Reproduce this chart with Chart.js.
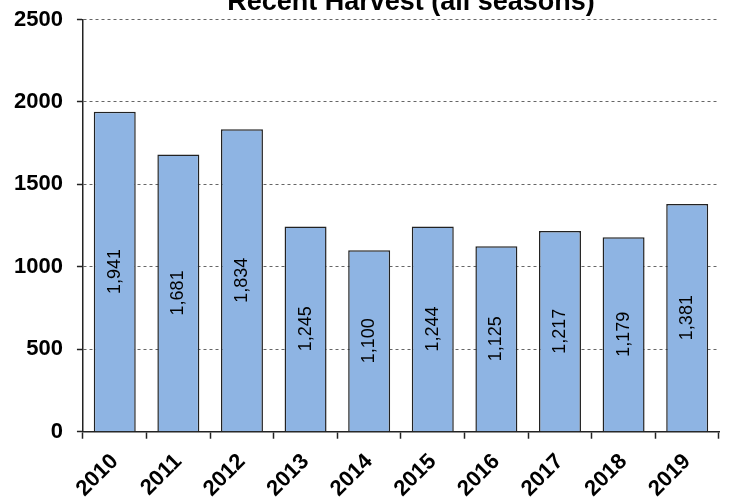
<!DOCTYPE html>
<html>
<head>
<meta charset="utf-8">
<script src="https://cdn.jsdelivr.net/npm/chart.js@4"></script>
<style>
  html, body { margin: 0; padding: 0; background: #fff; }
  #wrap { position: relative; width: 729px; height: 498px; }
</style>
</head>
<body>
<div id="wrap"><canvas id="harvestChart"></canvas></div>
<script>
const years = ['2010', '2011', '2012', '2013', '2014', '2015', '2016', '2017', '2018', '2019'];
const harvest = [1941, 1681, 1834, 1245, 1100, 1244, 1125, 1217, 1179, 1381];
const chartTitle = 'Recent Harvest (all seasons)';

const fontFamily = "'Liberation Sans', Arial, sans-serif";

// labels inside the bars, turned on their side
const barLabels = {
    id: 'barLabels',
    afterDatasetsDraw(chart) {
        const ctx = chart.ctx;
        const meta = chart.getDatasetMeta(0);
        ctx.save();
        ctx.font = '18px ' + fontFamily;
        ctx.fillStyle = '#000';
        ctx.textAlign = 'center';
        ctx.textBaseline = 'middle';
        meta.data.forEach((bar, i) => {
            const y = (bar.y + bar.base) / 2;
            ctx.save();
            ctx.translate(bar.x, y);
            ctx.rotate(-Math.PI / 2);
            ctx.fillText(harvest[i].toLocaleString('en-US'), 0, 0);
            ctx.restore();
        });
        ctx.restore();
    }
};

// title sits partly above the top edge, as in the original
const topTitle = {
    id: 'topTitle',
    afterDraw(chart) {
        const ctx = chart.ctx;
        const area = chart.chartArea;
        ctx.save();
        ctx.font = 'bold 27px ' + fontFamily;
        ctx.fillStyle = '#000';
        ctx.textAlign = 'center';
        ctx.textBaseline = 'alphabetic';
        ctx.fillText(chartTitle, (area.left + area.right) / 2 + 10, 10);
        ctx.restore();
    }
};

const ctx = document.getElementById('harvestChart').getContext('2d');
const harvestChart = new Chart(ctx, {
    type: 'bar',
    data: {
        labels: years,
        datasets: [{
            label: 'Harvest',
            data: harvest,
            backgroundColor: '#8eb4e3',
            borderColor: '#222',
            borderWidth: 1.5,
            barPercentage: 0.66,
            categoryPercentage: 1
        }]
    },
    options: {
        responsive: true,
        maintainAspectRatio: false,
        animation: false,
        layout: {
            padding: { top: 7, right: 10, left: 0, bottom: -14 }
        },
        plugins: {
            legend: { display: false },
            title: { display: false },
            tooltip: { enabled: false }
        },
        scales: {
            x: {
                border: { display: true, color: '#222', width: 1.5 },
                grid: {
                    offset: true,
                    drawOnChartArea: false,
                    tickLength: 7,
                    tickColor: '#222',
                    tickWidth: 1.5
                },
                ticks: {
                    color: '#000',
                    font: { family: fontFamily, size: 22, weight: 'bold' },
                    minRotation: 45,
                    maxRotation: 45,
                    padding: 10
                }
            },
            y: {
                min: 0,
                max: 2500,
                border: { display: true, color: '#222', width: 1.5, dash: [3, 3] },
                grid: {
                    color: '#666',
                    tickLength: 6,
                    tickColor: '#222',
                    tickBorderDash: [],
                    tickWidth: 1.5
                },
                ticks: {
                    stepSize: 500,
                    color: '#000',
                    font: { family: fontFamily, size: 22, weight: 'bold', lineHeight: 0.5 },
                    padding: 14,
                    callback: value => String(value)
                }
            }
        }
    },
    plugins: [barLabels, topTitle]
});
</script>
</body>
</html>
